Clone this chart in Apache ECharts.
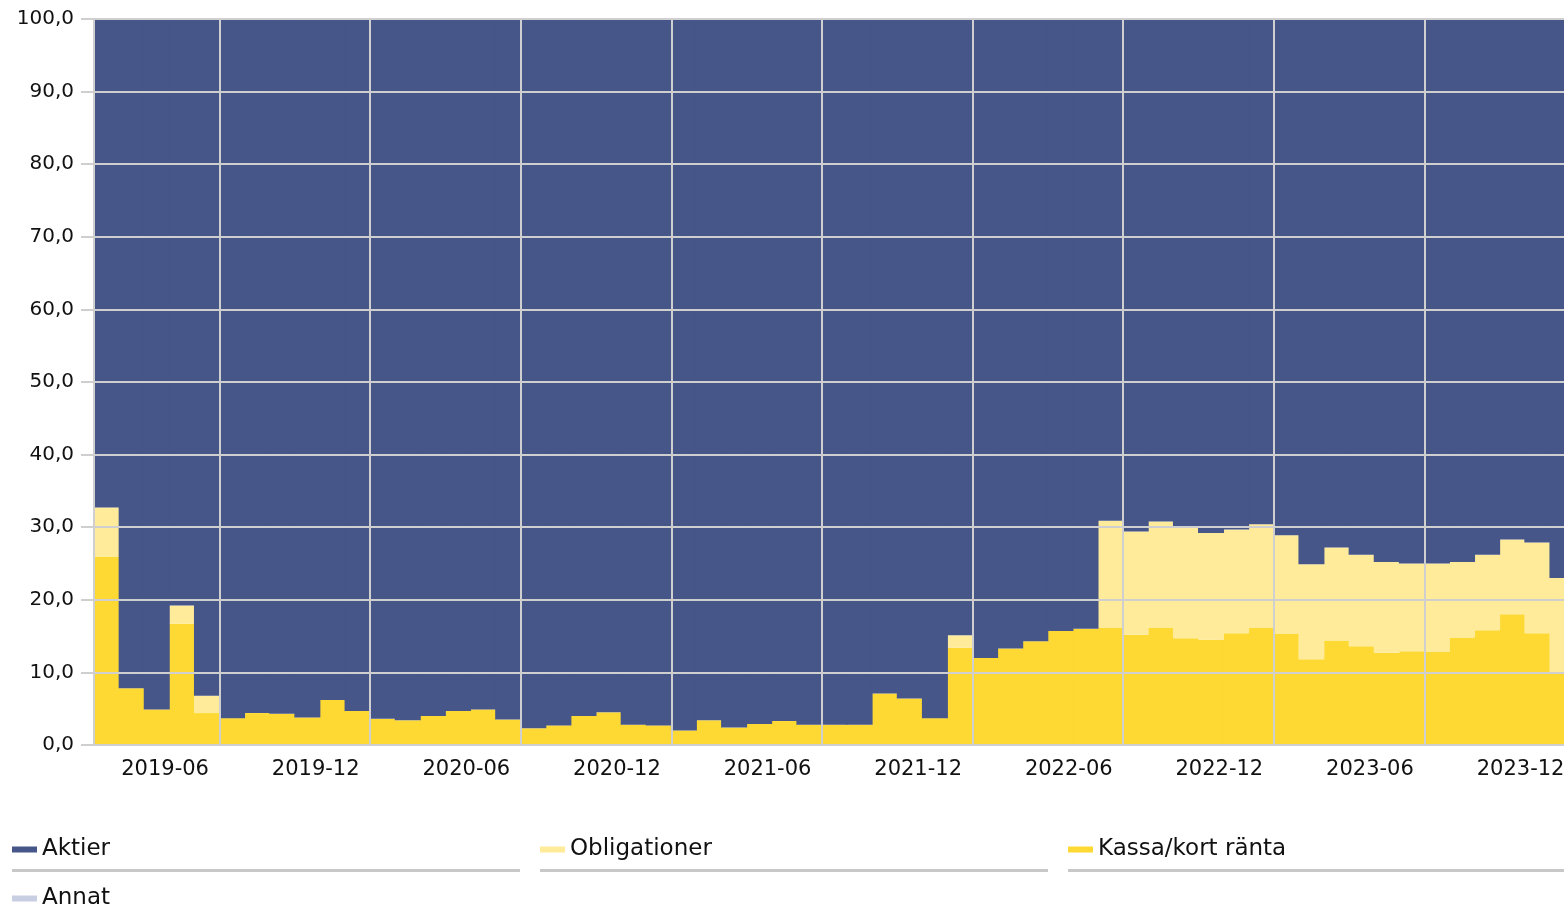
<!DOCTYPE html>
<html>
<head>
<meta charset="utf-8">
<title>Fördelning</title>
<script src="https://cdn.jsdelivr.net/npm/echarts@6/dist/echarts.min.js"></script>
<style>
  html, body { margin: 0; padding: 0; background: #fff; overflow: hidden; }
  #chart { width: 1564px; height: 917px; }
</style>
</head>
<body>
<div id="chart"></div>
<script>
// månader 2019-02 .. 2023-12
var months = [
  '2019-02','2019-03','2019-04','2019-05','2019-06','2019-07','2019-08','2019-09','2019-10','2019-11','2019-12',
  '2020-01','2020-02','2020-03','2020-04','2020-05','2020-06','2020-07','2020-08','2020-09','2020-10','2020-11','2020-12',
  '2021-01','2021-02','2021-03','2021-04','2021-05','2021-06','2021-07','2021-08','2021-09','2021-10','2021-11','2021-12',
  '2022-01','2022-02','2022-03','2022-04','2022-05','2022-06','2022-07','2022-08','2022-09','2022-10','2022-11','2022-12',
  '2023-01','2023-02','2023-03','2023-04','2023-05','2023-06','2023-07','2023-08','2023-09','2023-10','2023-11','2023-12'
];

var kassa = [
  25.9, 7.8, 4.9, 16.7, 4.4, 3.7, 4.4, 4.3, 3.8, 6.2, 4.7,
  3.6, 3.4, 4.0, 4.7, 4.9, 3.5, 2.3, 2.7, 4.0, 4.5, 2.8, 2.7,
  2.0, 3.4, 2.4, 2.9, 3.3, 2.8, 2.8, 2.8, 7.1, 6.4, 3.7, 13.4,
  12.0, 13.3, 14.3, 15.7, 16.0, 16.1, 15.2, 16.2, 14.7, 14.5, 15.4, 16.1,
  15.3, 11.8, 14.4, 13.6, 12.7, 12.9, 12.8, 14.8, 15.8, 18.0, 15.4, 9.9
];

var obligationer = [
  6.8, 0, 0, 2.5, 2.4, 0, 0, 0, 0, 0, 0,
  0, 0, 0, 0, 0, 0, 0, 0, 0, 0, 0, 0,
  0, 0, 0, 0, 0, 0, 0, 0, 0, 0, 0, 1.7,
  0, 0, 0, 0, 0, 14.8, 14.2, 14.6, 15.2, 14.7, 14.3, 14.3,
  13.6, 13.1, 12.8, 12.6, 12.5, 12.1, 12.2, 10.4, 10.4, 10.3, 12.5, 13.1
];

var annat = [
  0, 0, 0, 0, 0, 0, 0, 0, 0, 0, 0,
  0, 0, 0, 0, 0, 0, 0, 0, 0, 0, 0, 0,
  0, 0, 0, 0, 0, 0, 0, 0, 0, 0, 0, 0,
  0, 0, 0, 0, 0, 0, 0, 0, 0, 0, 0, 0,
  0, 0, 0, 0, 0, 0, 0, 0, 0, 0, 0, 0
];

var aktier = [
  67.3, 92.2, 95.1, 80.8, 93.2, 96.3, 95.6, 95.7, 96.2, 93.8, 95.3,
  96.4, 96.6, 96.0, 95.3, 95.1, 96.5, 97.7, 97.3, 96.0, 95.5, 97.2, 97.3,
  98.0, 96.6, 97.6, 97.1, 96.7, 97.2, 97.2, 97.2, 92.9, 93.6, 96.3, 84.9,
  88.0, 86.7, 85.7, 84.3, 84.0, 69.1, 70.6, 69.2, 70.1, 70.8, 70.3, 69.6,
  71.1, 75.1, 72.8, 73.8, 74.8, 75.0, 75.0, 74.8, 73.8, 71.7, 72.1, 77.0
];

var FONT = 'DejaVu Sans, Verdana, sans-serif';
var GRID_COLOR = '#cfcfcf';

// halvårsgränser (jan / jul) + första stapeln
function isBoundary(index, value) {
  return index === 0 || /-(01|07)$/.test(value);
}

function legendAt(name, left, top) {
  return {
    data: [name],
    left: left,
    top: top,
    padding: 0,
    icon: 'rect',
    itemWidth: 25,
    itemHeight: 6,
    itemGap: 0,
    textStyle: { fontFamily: FONT, fontSize: 23, color: '#111' }
  };
}

function bar(name, data, color) {
  return {
    name: name,
    type: 'bar',
    stack: 'total',
    data: data,
    barWidth: 26, // lite överlapp så att inga skarvar syns
    itemStyle: { color: color },
    emphasis: { disabled: true },
    z: 1
  };
}

var chart = echarts.init(document.getElementById('chart'));
chart.setOption({
  animation: false,
  // ritytan fortsätter förbi bildkanten, sista stapeln klipps
  grid: { left: 94, top: 19, width: 1481, bottom: 172, outerBoundsMode: 'none' },
  legend: [
    legendAt('Aktier', 12, 838),
    legendAt('Obligationer', 540, 838),
    legendAt('Kassa/kort ränta', 1068, 838),
    legendAt('Annat', 12, 887)
  ],
  // streck under legenden
  graphic: [
    { type: 'rect', shape: { x: 12, y: 869, width: 508, height: 3 }, style: { fill: '#c8c8c8' } },
    { type: 'rect', shape: { x: 540, y: 869, width: 508, height: 3 }, style: { fill: '#c8c8c8' } },
    { type: 'rect', shape: { x: 1068, y: 869, width: 500, height: 3 }, style: { fill: '#c8c8c8' } }
  ],
  xAxis: {
    type: 'category',
    data: months,
    boundaryGap: true,
    z: 10,
    axisLine: { lineStyle: { color: GRID_COLOR, width: 2 } },
    axisTick: { interval: isBoundary, length: 13, lineStyle: { color: GRID_COLOR, width: 2 } },
    splitLine: { show: true, interval: isBoundary, lineStyle: { color: GRID_COLOR, width: 2 } },
    axisLabel: {
      interval: function (index, value) { return /-(06|12)$/.test(value); },
      align: 'right',
      padding: [0, -2, 0, 0],
      margin: 14,
      fontFamily: FONT,
      fontSize: 21,
      color: '#111'
    }
  },
  yAxis: {
    type: 'value',
    min: 0,
    max: 100,
    interval: 10,
    z: 10,
    axisLine: { show: true, lineStyle: { color: GRID_COLOR, width: 2 } },
    axisTick: { show: true, length: 13, lineStyle: { color: GRID_COLOR, width: 2 } },
    splitLine: { lineStyle: { color: GRID_COLOR, width: 2 } },
    axisLabel: {
      margin: 20,
      fontFamily: FONT,
      fontSize: 20,
      color: '#111',
      formatter: function (v) { return v.toFixed(1).replace('.', ','); }
    }
  },
  series: [
    bar('Kassa/kort ränta', kassa, '#FED933'),
    bar('Obligationer', obligationer, '#FFEB99'),
    bar('Annat', annat, '#C8CFE3'),
    bar('Aktier', aktier, '#465689')
  ]
});
</script>
</body>
</html>
